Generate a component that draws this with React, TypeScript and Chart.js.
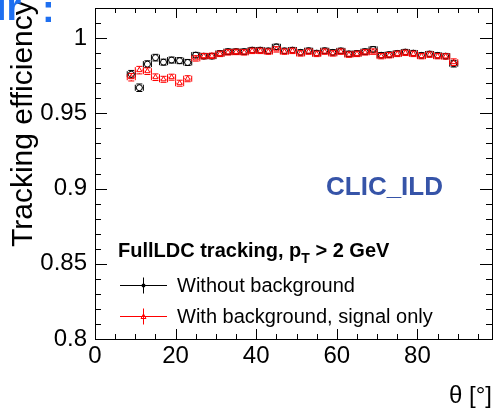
import React, { useEffect, useRef } from "react";
import { Chart, registerables } from "chart.js";

Chart.register(...registerables);

const THETA = [9, 11, 13, 15, 17, 19, 21, 23, 25, 27, 29, 31, 33, 35, 37, 39, 41, 43, 45, 47, 49, 51, 53, 55, 57, 59, 61, 63, 65, 67, 69, 71, 73, 75, 77, 79, 81, 83, 85, 87, 89];
const WITHOUT_BG = [0.976, 0.967, 0.9827, 0.987, 0.984, 0.9854, 0.985, 0.9838, 0.9887, 0.988, 0.988, 0.9898, 0.991, 0.991, 0.991, 0.992, 0.992, 0.9915, 0.9942, 0.9915, 0.992, 0.9905, 0.9916, 0.99, 0.9916, 0.9905, 0.9915, 0.9895, 0.9898, 0.991, 0.9925, 0.9886, 0.989, 0.9898, 0.9907, 0.99, 0.9885, 0.9894, 0.9885, 0.988, 0.983];
const WITH_BG = [0.974, 0.9787, 0.978, 0.974, 0.9726, 0.974, 0.97, 0.973, 0.9865, 0.988, 0.9882, 0.9895, 0.9905, 0.9908, 0.9905, 0.9915, 0.9915, 0.991, 0.9925, 0.991, 0.9915, 0.9898, 0.991, 0.9895, 0.991, 0.9898, 0.991, 0.989, 0.9895, 0.9905, 0.991, 0.988, 0.9886, 0.9895, 0.9902, 0.9895, 0.988, 0.989, 0.988, 0.9878, 0.984];
const ERR_WITHOUT = [0.0025, 0.0025, 0.0022, 0.0022, 0.002, 0.002, 0.002, 0.002, 0.0018, 0.0018, 0.0018, 0.0018, 0.0018, 0.0018, 0.0018, 0.0018, 0.0018, 0.0018, 0.0018, 0.0018, 0.0018, 0.0018, 0.0018, 0.0018, 0.0018, 0.0018, 0.0018, 0.0018, 0.0018, 0.0018, 0.0018, 0.0018, 0.0018, 0.0018, 0.0018, 0.0018, 0.0018, 0.0018, 0.0018, 0.0018, 0.0022];
const ERR_WITH = [0.0025, 0.0025, 0.0022, 0.0022, 0.002, 0.002, 0.002, 0.002, 0.0018, 0.0018, 0.0018, 0.0018, 0.0018, 0.0018, 0.0018, 0.0018, 0.0018, 0.0018, 0.0018, 0.0018, 0.0018, 0.0018, 0.0018, 0.0018, 0.0018, 0.0018, 0.0018, 0.0018, 0.0018, 0.0018, 0.0018, 0.0018, 0.0018, 0.0018, 0.0018, 0.0018, 0.0018, 0.0018, 0.0018, 0.0018, 0.0022];
const THETA_HALF_BIN = 1;

const X_TICKS = [0, 20, 40, 60, 80];
const Y_TICKS = [0.8, 0.85, 0.9, 0.95, 1];
const X_MIN = 0;
const X_MAX = 98.5;
const Y_MIN = 0.8;
const Y_MAX = 1.02;
const X_MINOR_STEP = 5;
const Y_MINOR_STEP = 0.01;

const SERIES_LABELS = ["Without background", "With background, signal only"];
const LEGEND_TITLE = ["FullLDC tracking, p", "T", " > 2 GeV"];
const Y_TITLE = "Tracking efficiency";
const X_TITLE = "θ [°]";
const TAG = "CLIC_ILD";

const FONT = '"Liberation Sans", Arial, Helvetica, sans-serif';
const RED = "#ff0000";
const BLACK = "#000000";

const errorBars = {
  id: "errorBars",
  afterDatasetDraw(chart: any, args: any) {
    const ds = chart.data.datasets[args.index];
    const xs = chart.scales.x;
    const ys = chart.scales.y;
    const ctx = chart.ctx;
    ctx.save();
    ctx.strokeStyle = ds.borderColor;
    ctx.lineWidth = 1;
    const r = 3;
    const c = 3;
    ds.data.forEach((p: any, i: number) => {
      const cx = xs.getPixelForValue(p.x);
      const cy = ys.getPixelForValue(p.y);
      const x0 = xs.getPixelForValue(p.x - THETA_HALF_BIN);
      const x1 = xs.getPixelForValue(p.x + THETA_HALF_BIN);
      const y0 = ys.getPixelForValue(p.y + ds.yErr[i]);
      const y1 = ys.getPixelForValue(p.y - ds.yErr[i]);
      ctx.beginPath();
      ctx.moveTo(x0, cy);
      ctx.lineTo(cx - r, cy);
      ctx.moveTo(cx + r, cy);
      ctx.lineTo(x1, cy);
      ctx.moveTo(x0, cy - c);
      ctx.lineTo(x0, cy + c);
      ctx.moveTo(x1, cy - c);
      ctx.lineTo(x1, cy + c);
      if (y0 < cy - r) {
        ctx.moveTo(cx, y0);
        ctx.lineTo(cx, cy - r);
      }
      if (y1 > cy + r) {
        ctx.moveTo(cx, cy + r);
        ctx.lineTo(cx, y1);
      }
      ctx.moveTo(cx - c, y0);
      ctx.lineTo(cx + c, y0);
      ctx.moveTo(cx - c, y1);
      ctx.lineTo(cx + c, y1);
      ctx.stroke();
    });
    ctx.restore();
  },
};

const decorations = {
  id: "decorations",
  afterDraw(chart: any) {
    const ctx = chart.ctx;
    const a = chart.chartArea;
    const xs = chart.scales.x;
    const ys = chart.scales.y;
    ctx.save();
    ctx.strokeStyle = "#000";
    ctx.lineWidth = 1;
    ctx.strokeRect(Math.round(a.left) + 0.5, Math.round(a.top) + 0.5, Math.round(a.right - a.left), Math.round(a.bottom - a.top));
    ctx.beginPath();
    for (let v = X_MIN; v <= X_MAX + 1e-9; v += X_MINOR_STEP) {
      const px = Math.round(xs.getPixelForValue(v)) + 0.5;
      const major = X_TICKS.some((t) => Math.abs(t - v) < 1e-6);
      const len = major ? 10 : 5;
      ctx.moveTo(px, a.bottom);
      ctx.lineTo(px, a.bottom - len);
      ctx.moveTo(px, a.top);
      ctx.lineTo(px, a.top + len);
    }
    for (let k = 0; Y_MIN + k * Y_MINOR_STEP <= Y_MAX + 1e-9; k++) {
      const v = Y_MIN + k * Y_MINOR_STEP;
      const py = Math.round(ys.getPixelForValue(v)) + 0.5;
      const major = Y_TICKS.some((t) => Math.abs(t - v) < 1e-6);
      const len = major ? 12 : 6;
      ctx.moveTo(a.left, py);
      ctx.lineTo(a.left + len, py);
      ctx.moveTo(a.right, py);
      ctx.lineTo(a.right - len, py);
    }
    ctx.stroke();

    // axis titles
    ctx.fillStyle = "#000";
    ctx.font = `30px ${FONT}`;
    ctx.save();
    ctx.translate(32, 247);
    ctx.rotate(-Math.PI / 2);
    ctx.textAlign = "left";
    ctx.textBaseline = "alphabetic";
    ctx.fillText(Y_TITLE, 0, 0);
    ctx.restore();
    ctx.font = `24px ${FONT}`;
    ctx.textAlign = "right";
    ctx.textBaseline = "alphabetic";
    ctx.fillText(X_TITLE, a.right, 403);

    // tag
    ctx.fillStyle = "#3654a8";
    ctx.font = `bold 26px ${FONT}`;
    ctx.textAlign = "left";
    ctx.fillText(TAG, 326, 195);

    // cropped blue text at the top-left corner
    ctx.fillStyle = "#1e6ff0";
    ctx.font = `bold 38px ${FONT}`;
    ctx.fillText("ır", -4, 20);
    ctx.fillText(":", 42, 22);

    // legend
    ctx.fillStyle = "#000";
    ctx.font = `bold 20px ${FONT}`;
    let lx = 118;
    const ly = 257;
    ctx.fillText(LEGEND_TITLE[0], lx, ly);
    lx += ctx.measureText(LEGEND_TITLE[0]).width;
    ctx.font = `bold 14px ${FONT}`;
    ctx.fillText(LEGEND_TITLE[1], lx, ly + 6);
    lx += ctx.measureText(LEGEND_TITLE[1]).width;
    ctx.font = `bold 20px ${FONT}`;
    ctx.fillText(LEGEND_TITLE[2], lx, ly);

    const entries = [
      { label: SERIES_LABELS[0], color: BLACK, y: 285.5, marker: "circle" },
      { label: SERIES_LABELS[1], color: RED, y: 316.5, marker: "triangle" },
    ];
    ctx.font = `20px ${FONT}`;
    entries.forEach((e) => {
      ctx.strokeStyle = e.color;
      ctx.lineWidth = 1;
      ctx.beginPath();
      ctx.moveTo(120, e.y);
      ctx.lineTo(167, e.y);
      ctx.moveTo(143.5, e.y - 8);
      ctx.lineTo(143.5, e.y + 8);
      ctx.stroke();
      ctx.fillStyle = e.color;
      ctx.beginPath();
      if (e.marker === "circle") {
        ctx.arc(143.5, e.y, 2, 0, Math.PI * 2);
        ctx.fill();
      } else {
        ctx.moveTo(143.5, e.y - 2.5);
        ctx.lineTo(146, e.y + 2);
        ctx.lineTo(141, e.y + 2);
        ctx.closePath();
        ctx.stroke();
      }
      ctx.fillStyle = "#000";
      ctx.textBaseline = "middle";
      ctx.fillText(e.label, 177, e.y + 1);
      ctx.textBaseline = "alphabetic";
    });
    ctx.restore();
  },
};

export default function App() {
  const ref = useRef<HTMLCanvasElement | null>(null);
  useEffect(() => {
    if (!ref.current) return;
    const chart = new Chart(ref.current, {
      type: "scatter",
      data: {
        datasets: [
          {
            label: SERIES_LABELS[1],
            data: THETA.map((x, i) => ({ x, y: WITH_BG[i] })),
            yErr: ERR_WITH,
            borderColor: RED,
            backgroundColor: "rgba(0,0,0,0)",
            pointStyle: "triangle",
            pointRadius: 3,
            borderWidth: 1,
            showLine: false,
          } as any,
          {
            label: SERIES_LABELS[0],
            data: THETA.map((x, i) => ({ x, y: WITHOUT_BG[i] })),
            yErr: ERR_WITHOUT,
            borderColor: BLACK,
            backgroundColor: "rgba(0,0,0,0)",
            pointStyle: "circle",
            pointRadius: 3,
            borderWidth: 1,
            showLine: false,
          } as any,
        ],
      },
      options: {
        animation: false,
        responsive: false,
        devicePixelRatio: 1,
        layout: { padding: { left: 0, right: 4, top: 8, bottom: 0 } },
        plugins: { legend: { display: false }, tooltip: { enabled: false } },
        scales: {
          x: {
            type: "linear",
            min: X_MIN,
            max: X_MAX,
            grid: { display: false, drawTicks: false },
            border: { display: false },
            afterBuildTicks: (s: any) => {
              s.ticks = X_TICKS.map((v) => ({ value: v }));
            },
            afterFit: (s: any) => {
              s.height = 72;
              s.paddingLeft = 0;
              s.paddingRight = 0;
              s.paddingTop = 0;
              s.paddingBottom = 0;
            },
            ticks: {
              color: "#000",
              padding: 3,
              maxRotation: 0,
              autoSkip: false,
              font: { family: FONT, size: 24 },
              callback: (v: any) => String(v),
            },
          },
          y: {
            type: "linear",
            min: Y_MIN,
            max: Y_MAX,
            grid: { display: false, drawTicks: false },
            border: { display: false },
            afterBuildTicks: (s: any) => {
              s.ticks = Y_TICKS.map((v) => ({ value: v }));
            },
            afterFit: (s: any) => {
              s.width = 95;
              s.paddingLeft = 0;
              s.paddingRight = 0;
              s.paddingTop = 0;
              s.paddingBottom = 0;
            },
            ticks: {
              color: "#000",
              padding: 8,
              autoSkip: false,
              font: { family: FONT, size: 24 },
              callback: (v: any) => String(v),
            },
          },
        },
      },
      plugins: [errorBars, decorations],
    } as any);
    return () => chart.destroy();
  }, []);
  return (
    <div style={{ position: "fixed", left: 0, top: 0, width: 497, height: 411, background: "#fff" }}>
      <canvas ref={ref} width={497} height={411} />
    </div>
  );
}
